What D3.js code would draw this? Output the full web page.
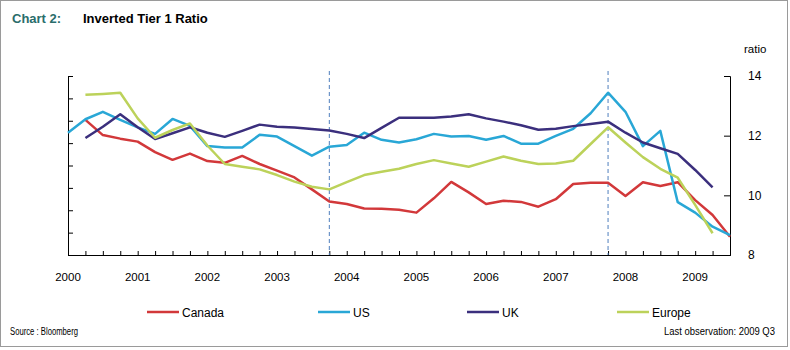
<!doctype html>
<html>
<head>
    <script src="https://d3js.org/d3.v7.min.js"></script>
    <style>
        body { margin: 0; background: #fff; }
        text { font-family: Arial, "Liberation Sans", sans-serif; }
    </style>
</head>
<body>
    <script>
        // quarterly observations, 2000Q1 .. 2009Q3
        let quarters = [];
        for (let y = 2000; y <= 2009; y++) {
            for (let q = 1; q <= 4; q++) {
                if (y === 2009 && q > 3) break;
                quarters.push(y + "Q" + q);
            }
        }
        let canada = [null, 12.53, 12.02, 11.90, 11.80, 11.45, 11.19, 11.40, 11.15, 11.09, 11.32, 11.05, 10.83, 10.60, 10.20, 9.79,
                      9.71, 9.56, 9.55, 9.52, 9.42, 9.90, 10.45, 10.10, 9.71, 9.82, 9.78, 9.62, 9.87, 10.38, 10.42, 10.42,
                      9.98, 10.44, 10.31, 10.44, 9.84, 9.34, 8.61];
        let us = [12.10, 12.55, 12.80, 12.53, 12.28, 12.06, 12.56, 12.33, 11.65, 11.60, 11.60, 12.03, 11.97, 11.65, 11.33, 11.63,
                  11.69, 12.10, 11.86, 11.77, 11.88, 12.06, 11.97, 11.99, 11.86, 11.99, 11.73, 11.73, 11.99, 12.23, 12.75, 13.44,
                  12.80, 11.65, 12.16, 9.77, 9.42, 8.95, 8.67];
        let uk = [null, 11.92, 12.30, 12.72, 12.28, 11.89, 12.08, 12.28, 12.10, 11.96, 12.16, 12.37, 12.30, 12.27, 12.22, 12.17,
                  12.06, 11.92, 12.26, 12.60, 12.60, 12.60, 12.64, 12.72, 12.58, 12.47, 12.35, 12.20, 12.23, 12.32, 12.39, 12.47,
                  12.10, 11.77, 11.58, 11.39, 10.85, 10.27, null];
        let europe = [null, 13.37, 13.40, 13.44, 12.58, 11.93, 12.19, 12.41, 11.67, 11.05, 10.96, 10.87, 10.68, 10.46, 10.29, 10.20,
                      10.44, 10.68, 10.79, 10.89, 11.05, 11.18, 11.07, 10.96, 11.13, 11.30, 11.16, 11.05, 11.07, 11.16, 11.72, 12.28,
                      11.77, 11.28, 10.89, 10.59, 9.68, 8.73, null];
        let seriesNames = ["Canada", "US", "UK", "Europe"];
        let seriesColors = ["#d2383a", "#29a7d6", "#3b2f7d", "#bcd25a"];
        let markerQuarters = ["2003Q4", "2007Q4"];
        let yearLabels = d3.range(2000, 2010);
        let rightTicks = [8, 10, 12, 14];

        let W = 790, H = 350;
        let plot = { left: 68, right: 730, top: 76, bottom: 255 };

        function qValue(s) { return +s.slice(0, 4) + (+s.slice(5) - 1) / 4; }

        let svg = d3.select("body").append("svg")
                    .attr("width", W).attr("height", H);

        svg.append("rect").attr("x", 0.5).attr("y", 0.5)
           .attr("width", W - 3).attr("height", H - 4)
           .attr("fill", "#fff").attr("stroke", "#9a9a9a");

        // title
        svg.append("text").attr("x", 12).attr("y", 23)
           .attr("font-size", 13).attr("font-weight", "bold").attr("fill", "#2a6d6b")
           .text("Chart 2:");
        svg.append("text").attr("x", 83).attr("y", 23)
           .attr("font-size", 13).attr("font-weight", "bold").attr("fill", "#000")
           .text("Inverted Tier 1 Ratio");

        let x = d3.scaleLinear().domain([2000, 2009.5]).range([plot.left, plot.right]);
        let y = d3.scaleLinear().domain([8, 14]).range([plot.bottom, plot.top]);
        let yLeft = d3.scaleLinear().domain([0, 8]).range([plot.bottom, plot.top]);

        // axes
        let xAxis = d3.axisBottom(x)
                      .tickValues(quarters.map(qValue))
                      .tickSize(-4).tickFormat("");
        svg.append("g").attr("transform", "translate(0," + plot.bottom + ")").call(xAxis);

        let xl = svg.append("g");
        xl.selectAll("text").data(yearLabels).enter().append("text")
          .attr("x", function(d){ return x(d); })
          .attr("y", 281)
          .attr("text-anchor", "middle")
          .attr("font-size", 11.5)
          .text(function(d){ return d; });

        let leftAxis = d3.axisLeft(yLeft).tickValues(d3.range(0, 9)).tickSize(-5).tickFormat("");
        svg.append("g").attr("transform", "translate(" + plot.left + ",0)").call(leftAxis);

        let rightAxis = d3.axisRight(y).tickValues(rightTicks).tickSize(-6).tickPadding(18)
                          .tickFormat(d3.format("d"));
        svg.append("g").attr("transform", "translate(" + plot.right + ",0)").call(rightAxis)
           .selectAll("text").attr("font-size", 12).attr("fill", "#000");

        svg.selectAll(".domain, .tick line").attr("stroke", "#000");

        svg.append("text").attr("x", 744).attr("y", 53)
           .attr("font-size", 11.5).text("ratio");

        // vertical markers
        svg.selectAll(".marker").data(markerQuarters).enter().append("line")
           .attr("x1", function(d){ return x(qValue(d)); })
           .attr("x2", function(d){ return x(qValue(d)); })
           .attr("y1", plot.top - 5).attr("y2", plot.bottom)
           .attr("stroke", "#4f7fbd").attr("stroke-width", 1)
           .attr("stroke-dasharray", "4,3");

        // series
        let allSeries = [canada, us, uk, europe];
        let line = d3.line()
                     .defined(function(d){ return d.v !== null; })
                     .x(function(d){ return x(qValue(d.q)); })
                     .y(function(d){ return y(d.v); });

        allSeries.forEach(function(vals, i) {
            let pts = quarters.map(function(q, j){ return { q: q, v: vals[j] }; });
            svg.append("path").datum(pts)
               .attr("d", line)
               .attr("fill", "none")
               .attr("stroke", seriesColors[i])
               .attr("stroke-width", 2.5)
               .attr("stroke-linejoin", "round");
        });

        // legend
        let legendX = [147, 318, 467, 617];
        let lg = svg.selectAll(".leg").data(seriesNames).enter().append("g")
                    .attr("transform", function(d, i){ return "translate(" + legendX[i] + ",312)"; });
        lg.append("line").attr("x1", 0).attr("x2", 32).attr("y1", 0).attr("y2", 0)
          .attr("stroke", function(d, i){ return seriesColors[i]; })
          .attr("stroke-width", 2.5);
        lg.append("text").attr("x", 35).attr("y", 4.5)
          .attr("font-size", 12).text(function(d){ return d; });

        // footnotes
        svg.append("text").attr("x", 10).attr("y", 335)
           .attr("font-size", 10).attr("textLength", 68).attr("lengthAdjust", "spacingAndGlyphs")
           .text("Source : Bloomberg");
        svg.append("text").attr("x", 664).attr("y", 335)
           .attr("font-size", 10).attr("textLength", 111).attr("lengthAdjust", "spacingAndGlyphs")
           .text("Last observation: 2009 Q3");
    </script>
</body>
</html>
